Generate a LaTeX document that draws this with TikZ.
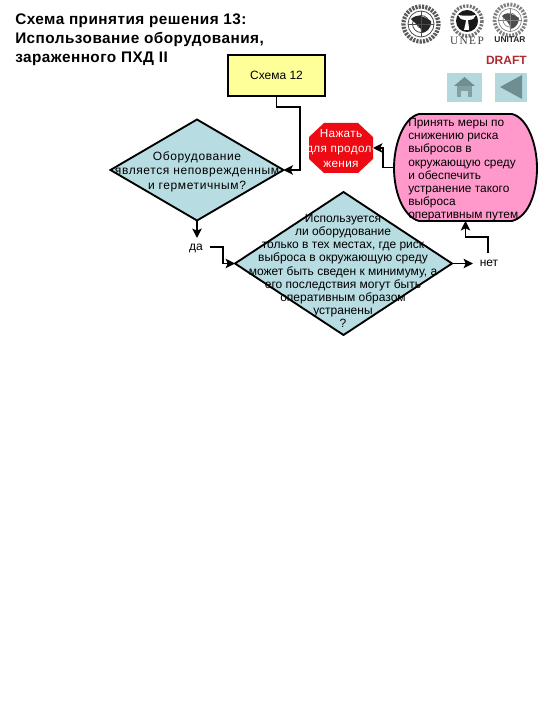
\documentclass[tikz,border=0pt]{standalone}
\usepackage{fontspec}
\setmainfont{Liberation Sans}
\newfontfamily\serifx{Liberation Serif}
\usetikzlibrary{shapes.geometric,arrows.meta}
\definecolor{dteal}{HTML}{B7DCE1}
\definecolor{pinkf}{HTML}{FF99CC}
\definecolor{yelf}{HTML}{FFFF99}
\definecolor{stopred}{HTML}{EE0A12}
\definecolor{btn}{HTML}{B5D8DE}
\definecolor{btnd}{HTML}{6E8E92}
\definecolor{draftc}{HTML}{B02A30}
\tikzset{
 conn/.style={line width=1.4pt,-{Stealth[length=7pt,width=7pt,inset=1.5pt]}},
 shp/.style={draw=black,line width=1.4pt,inner sep=0pt,outer sep=0pt},
 dia/.style={shp,diamond,fill=dteal,shape aspect=1},
 body/.style={align=center,inner sep=0pt},
 lab/.style={font=\fontsize{9}{10}\selectfont,inner sep=0pt},
 title/.style={align=left,anchor=north west,inner sep=0pt,font=\fontsize{11.5}{14.2}\bfseries\selectfont\addfontfeature{LetterSpace=3}}
}
\begin{document}
\begin{tikzpicture}[x=0.75pt,y=-0.75pt]
\useasboundingbox (0,0) rectangle (540,720);
\node[title] (ttl) at (15,14) {Схема принятия решения 13:\\Использование оборудования,\\зараженного ПХД II};
% logos
\draw[black!65,line width=3.2pt,dash pattern=on 1.6pt off .9pt] (421,24) circle (17.5);
\fill[white] (421,24) circle (13.5);
\draw[black!70,line width=.6pt] (421,24) circle (13) (421,24) circle (8.5) (421,24) circle (4);
\fill[black!85] (411,19) .. controls (417,13) and (425,17) .. (431,21) .. controls (432,28) and (426,33) .. (421,33) .. controls (423,27) and (416,25) .. (411,19);
\draw[black!70,line width=.5pt] (408,24) -- (434,24) (421,11) -- (421,37);
\draw[black!55,line width=2.6pt,dash pattern=on 1.5pt off 1pt] (467,21) circle (15);
\fill[white] (467,21) circle (12.5);
\fill[black!90] (467,21) circle (11);
\fill[white] (469,30) -- (464,30) .. controls (465,25) and (466,23) .. (466,20) .. controls (461,20) and (459,18) .. (458,15) .. controls (463,16) and (471,16) .. (476,15) .. controls (475,18) and (473,20) .. (468,20) .. controls (468,23) and (469,25) .. (469,30) -- cycle;
\draw[black!50,line width=2.8pt,dash pattern=on 1.5pt off 1pt] (510,20) circle (15.5);
\fill[white] (510,20) circle (12);
\draw[black!50,line width=.5pt] (510,20) circle (11.5) (510,20) circle (7);
\fill[black!70] (502,16) .. controls (507,11) and (513,14) .. (519,18) .. controls (519,25) and (514,29) .. (510,29) .. controls (511,24) and (506,21) .. (502,16);
\draw[black!50,line width=.4pt] (498,20) -- (522,20) (510,8) -- (510,32);
\node[inner sep=0pt,font=\serifx\fontsize{8.5}{9}\selectfont\addfontfeature{LetterSpace=12},text=black!75] (unep) at (467,41) {UNEP};
\node[inner sep=0pt,font=\fontsize{6.3}{7}\bfseries\selectfont,text=black!85] (unitar) at (510,40) {UNITAR};
\node[inner sep=0pt,anchor=east,text=draftc,font=\fontsize{9}{10}\bfseries\selectfont] (draft) at (527,60) {DRAFT};
% buttons
\fill[btn] (447,73) rectangle (482,102);
\fill[btnd] (454,86) -- (464.5,77) -- (475,86) -- cycle;
\fill[btnd!85] (457,86) rectangle (472,97);
\fill[btn] (461,91) rectangle (468,97);
\fill[btn] (495,73) rectangle (527,102);
\fill[btnd] (500,87) -- (522,75) -- (522,99) -- cycle;
% shapes
\node[shp,fill=yelf,minimum width=72.75pt,minimum height=30.75pt] (s12) at (276.5,75.5) {};
\node[lab] (s12t) at (s12.center) {Схема 12};
\node[dia,minimum width=129.75pt,minimum height=75.75pt] (d1) at (197,170) {};
\node[dia,minimum width=162.75pt,minimum height=107.25pt] (d2) at (343.5,263.5) {};
\fill[stopred] (324,123) -- (358,123) -- (373,137) -- (373,159) -- (358,173) -- (324,173) -- (309,159) -- (309,137) -- cycle;
\node[inner sep=0pt,outer sep=0pt,minimum width=48pt,minimum height=37.5pt] (stp) at (341,148) {};
\draw[shp,fill=pinkf] (419,114) -- (512,114) .. controls (528,118) and (537,145) .. (537,168) .. controls (537,190) and (530,216) .. (512,221) -- (419,221) .. controls (402,216) and (394,190) .. (394,168) .. controls (394,145) and (403,118) .. (419,114) -- cycle;
\node[inner sep=0pt,outer sep=0pt,minimum width=107.25pt,minimum height=80.25pt] (pk) at (465.5,167.5) {};
% labels
\node[body,font=\fontsize{9}{10.9}\selectfont\addfontfeature{LetterSpace=5}] (d1t) at (197,171.5) {Оборудование\\является неповрежденным\\и герметичным?};
\node[body,text=white,font=\fontsize{8.8}{11}\selectfont\addfontfeature{LetterSpace=3}] (stpt) at (341,148.5) {Нажать\\для продол-\\жения};
\node[body,font=\fontsize{9}{9.9}\selectfont] (d2t) at (343,271) {Используется\\ли оборудование\\только в тех местах, где риск\\выброса в окружающую среду\\может быть сведен к минимуму, а\\его последствия могут быть\\оперативным образом\\устранены\\?};
\node[body,align=left,anchor=north west,font=\fontsize{8.9}{9.9}\selectfont] (pkt) at (408,118) {Принять меры по\\снижению риска\\выбросов в\\окружающую среду\\и обеспечить\\устранение такого\\выброса\\оперативным путем};
\node[lab] (da) at (196,248) {да};
\node[lab] (net) at (489,263) {нет};
% connector ends
\coordinate (c1) at (300,107);
\coordinate (c2) at (383,167.5);
\coordinate (daTop) at (197,238);
\coordinate (daOut) at (210,247);
\coordinate (c3) at (223,247);
\coordinate (netIn) at (473,263.5);
\coordinate (netUp) at (488,253);
\coordinate (c4) at (488,237);
% connectors
\draw[conn] (s12.south) |- (c1) |- (d1.east);
\draw[conn] (d1.south) -- (daTop);
\draw[conn] (daOut) -- (c3) |- (d2.west);
\draw[conn] (d2.east) -- (netIn);
\draw[conn] (netUp) -- (c4) -| (pk.south);
\draw[conn] (pk.west) -- (c2) |- (stp.east);
\end{tikzpicture}
\end{document}
